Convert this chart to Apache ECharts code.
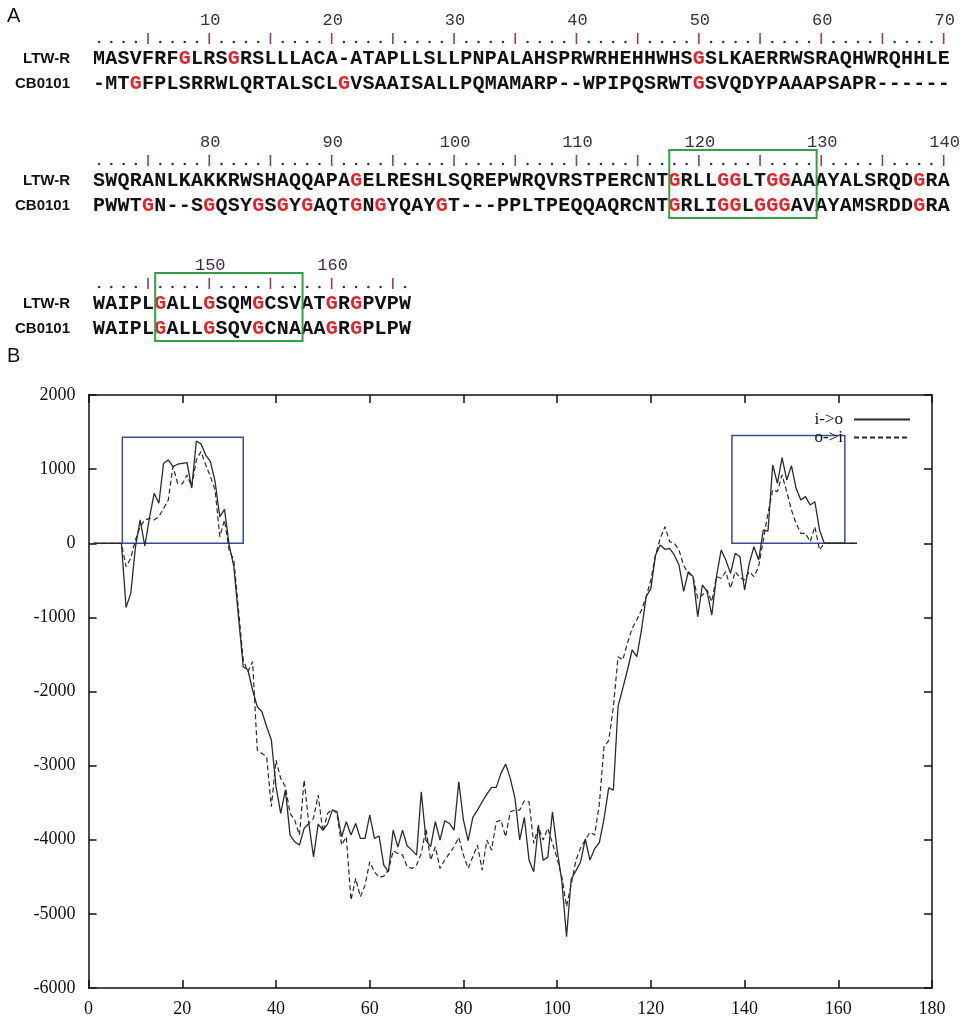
<!DOCTYPE html>
<html><head><meta charset="utf-8">
<script src="https://cdn.jsdelivr.net/npm/echarts@6/dist/echarts.min.js"></script>
<style>html,body{margin:0;padding:0;background:#fff}#c{width:960px;height:1020px}</style>
</head><body><div id="c"></div>
<script>
// ---------- Panel A data ----------
const seqNames = ['LTW-R', 'CB0101'];
const ltwRows = [
  'MASVFRFGLRSGRSLLLACA-ATAPLLSLLPNPALAHSPRWRHEHHWHSGSLKAERRWSRAQHWRQHHLE',
  'SWQRANLKAKKRWSHAQQAPAGELRESHLSQREPWRQVRSTPERCNTGRLLGGLTGGAAAYALSRQDGRA',
  'WAIPLGALLGSQMGCSVATGRGPVPW'
];
const cbRows = [
  '-MTGFPLSRRWLQRTALSCLGVSAAISALLPQMAMARP--WPIPQSRWTGSVQDYPAAAPSAPR------',
  'PWWTGN--SGQSYGSGYGAQTGNGYQAYGT---PPLTPEQQAQRCNTGRLIGGLGGGAVAYAMSRDDGRA',
  'WAIPLGALLGSQVGCNAAAGRGPLPW'
];
const rowStarts = [1, 71, 141];
// motif boxes: [row, first column, last column]
const motifBoxes = [[1, 48, 59], [2, 6, 17]];

// ---------- Panel B data ----------
const iToO = [
  0, 0, 0, 0, 0, 0, 0, -865, -676, -50,
  314, -37, 350, 674, 539, 1079, 1124, 1034, 1066, 1079,
  1088, 745, 1380, 1340, 1190, 1100, 830, 357, 456, -24,
  -316, -1000, -1665, -1710, -1980, -2205, -2273, -2475, -2655, -3284,
  -3645, -3330, -3937, -4027, -4072, -3847, -3780, -4230, -3789, -3870,
  -3789, -3600, -3622, -3960, -3757, -3937, -3780, -3982, -3982, -3667,
  -3982, -3950, -4342, -4432, -3870, -4100, -3870, -4085, -4140, -4207,
  -3352, -4004, -4094, -3757, -4004, -3744, -3780, -3870, -3217, -3735,
  -4013, -3699, -3600, -3487, -3384, -3294, -3294, -3105, -2979, -3172,
  -3442, -4004, -3699, -4274, -4432, -3802, -4274, -4238, -3622, -4140,
  -4560, -5309, -4530, -4420, -4300, -3990, -4274, -4120, -4040, -3720,
  -3300, -3330, -2200, -1958, -1710, -1440, -1530, -1170, -721, -608,
  -158, -23, -82, -68, -158, -293, -650, -383, -450, -990,
  -563, -653, -968, -450, -91, -226, -406, -136, -181, -631,
  -271, -46, -226, 179, 165, 1056, 809, 1155, 854, 1047,
  741, 584, 629, 516, 561, 179, 0, 0, 0, 0,
  0, 0, 0, 0
];
const oToI = [
  0, 0, 0, 0, 0, 0, 0, -316, -203, 44,
  224, 314, 336, 314, 359, 471, 584, 1034, 809, 800,
  921, 764, 1124, 1237, 1056, 899, 719, 89, 314, -91,
  -226, -900, -1575, -1733, -1598, -2790, -2835, -2880, -3555, -2925,
  -3172, -3285, -3645, -3735, -3937, -3195, -3780, -3712, -3397, -3892,
  -3645, -3590, -3645, -4072, -3960, -4814, -4522, -4769, -4612, -4297,
  -4432, -4510, -4490, -4410, -4150, -4185, -4207, -4364, -4387, -4342,
  -4185, -3847, -4274, -4094, -4387, -4274, -4185, -4094, -3968, -4207,
  -4387, -4229, -4072, -4409, -4004, -4140, -3757, -3735, -3960, -3622,
  -3600, -3600, -3474, -3487, -4049, -3825, -4004, -3847, -4049, -4252,
  -4500, -4900, -4600, -4280, -4110, -4004, -3900, -3937, -3520, -2745,
  -2664, -2205, -1530, -1575, -1350, -1148, -1035, -900, -721, -495,
  -158, 66, 224, 21, 0, -91, -300, -406, -450, -743,
  -698, -631, -788, -450, -473, -383, -608, -383, -464, -495,
  -383, -450, -316, 44, 404, 719, 696, 921, 696, 449,
  269, 134, 134, 21, 224, -91, 0, 0, 0, 0,
  0, 0, 0, 0
];
const seriesNames = ['i->o', 'o->i'];
const xTicks = [0, 20, 40, 60, 80, 100, 120, 140, 160, 180];
const yTicks = [-6000, -5000, -4000, -3000, -2000, -1000, 0, 1000, 2000];
// predicted TM regions: [xStart, xEnd, yBottom, yTop]
const tmBoxes = [[7.2, 33.0, 0, 1430], [137.3, 161.4, 0, 1453]];

// ---------- build ----------
const X0 = 99.1, DX = 12.24;
const rowTop = [0, 122, 245];
const colX = c => X0 + (c - 1) * DX;
const graphics = [];
const seqFont = 'bold 20px "Liberation Mono", "Courier New", monospace';
const labelFont = 'bold 15px "Liberation Sans", Arial, sans-serif';

graphics.push({type: 'text', x: 7, y: 16, style: {text: 'A', font: '20px "Liberation Sans", Arial, sans-serif', fill: '#111', textVerticalAlign: 'middle'}});
graphics.push({type: 'text', x: 7, y: 356, style: {text: 'B', font: '20px "Liberation Sans", Arial, sans-serif', fill: '#111', textVerticalAlign: 'middle'}});

for (let r = 0; r < 3; r++) {
  const t = rowTop[r];
  const len = ltwRows[r].length;
  for (let c = 1; c <= len; c++) {
    const pos = rowStarts[r] + c - 1;
    const x = colX(c);
    if (pos % 5 === 0) {
      graphics.push({type: 'line', shape: {x1: x, y1: t + 33, x2: x, y2: t + 44}, style: {stroke: '#8c3f6e', lineWidth: 1.6}});
    } else {
      graphics.push({type: 'circle', shape: {cx: x, cy: t + 42, r: 1.25}, style: {fill: '#333'}});
    }
    if (pos % 10 === 0) {
      graphics.push({type: 'text', x: x + 1, y: t + 20, style: {text: String(pos), font: '17px "Liberation Mono", "Courier New", monospace', fill: '#3c2c48', textAlign: 'center', textVerticalAlign: 'middle'}});
    }
  }
  graphics.push({type: 'text', x: 70, y: t + 58.5, style: {text: seqNames[0], font: labelFont, fill: '#111', textAlign: 'right', textVerticalAlign: 'middle'}});
  graphics.push({type: 'text', x: 70, y: t + 84, style: {text: seqNames[1], font: labelFont, fill: '#111', textAlign: 'right', textVerticalAlign: 'middle'}});
  [[ltwRows[r], t + 58.5], [cbRows[r], t + 84]].forEach(([s, y]) => {
    for (let c = 1; c <= s.length; c++) {
      const ch = s[c - 1];
      graphics.push({type: 'text', x: colX(c), y: y, style: {text: ch, font: seqFont, fill: ch === 'G' ? '#e3232c' : '#111', textAlign: 'center', textVerticalAlign: 'middle'}});
    }
  });
}
motifBoxes.forEach(([r, c1, c2]) => {
  const t = rowTop[r];
  const x1 = X0 + (c1 - 1.5) * DX + 1, x2 = X0 + (c2 - 0.5) * DX + 1.5;
  graphics.push({type: 'rect', shape: {x: x1, y: t + 28, width: x2 - x1, height: 68}, style: {fill: 'none', stroke: '#33a043', lineWidth: 2}});
});

const toPairs = arr => arr.map((v, i) => [i + 1, v]);
const serif = '"Liberation Serif", "Times New Roman", serif';
const axisLine = {show: true, onZero: false, lineStyle: {color: '#111', width: 1.5}};
const tick = {show: true, inside: true, length: 8, lineStyle: {color: '#111', width: 1.5}};
const plain = v => String(v);

const chart = echarts.init(document.getElementById('c'), null, {renderer: 'canvas'});
chart.setOption({
  animation: false,
  backgroundColor: '#fff',
  graphic: graphics,
  grid: {left: 88.6, right: 28, top: 395, bottom: 32, containLabel: false},
  legend: {
    data: [{name: seriesNames[0]}, {name: seriesNames[1]}],
    orient: 'vertical', right: 44, top: 406, align: 'right',
    itemWidth: 56, itemHeight: 10, itemGap: 1, selectedMode: false,
    itemStyle: {opacity: 0},
    textStyle: {fontFamily: serif, fontSize: 17, color: '#111', padding: [0, 6, 0, 0]}
  },
  xAxis: [
    {type: 'value', min: xTicks[0], max: xTicks[xTicks.length - 1], interval: xTicks[1] - xTicks[0], position: 'bottom',
     axisLine: axisLine, axisTick: tick, splitLine: {show: false},
     axisLabel: {fontFamily: serif, fontSize: 18, color: '#111', margin: 12, formatter: plain}},
    {type: 'value', min: xTicks[0], max: xTicks[xTicks.length - 1], interval: xTicks[1] - xTicks[0], position: 'top',
     axisLine: axisLine, axisTick: tick, splitLine: {show: false}, axisLabel: {show: false}}
  ],
  yAxis: [
    {type: 'value', min: yTicks[0], max: yTicks[yTicks.length - 1], interval: yTicks[1] - yTicks[0], position: 'left',
     axisLine: axisLine, axisTick: tick, splitLine: {show: false},
     axisLabel: {fontFamily: serif, fontSize: 18, color: '#111', margin: 13, formatter: plain}},
    {type: 'value', min: yTicks[0], max: yTicks[yTicks.length - 1], interval: yTicks[1] - yTicks[0], position: 'right',
     axisLine: axisLine, axisTick: tick, splitLine: {show: false}, axisLabel: {show: false}}
  ],
  series: [
    {name: seriesNames[0], type: 'line', data: toPairs(iToO), showSymbol: false, symbol: 'none',
     lineStyle: {color: '#2a2a2a', width: 1.3, type: 'solid'}, itemStyle: {color: '#2a2a2a'}},
    {name: seriesNames[1], type: 'line', data: toPairs(oToI), showSymbol: false, symbol: 'none',
     lineStyle: {color: '#2a2a2a', width: 1.2, type: [5, 3]}, itemStyle: {color: '#2a2a2a'}},
    {name: 'tm', type: 'line', data: [], z: 5,
     markArea: {silent: true, itemStyle: {color: 'rgba(0,0,0,0)', borderColor: '#3a4a9c', borderWidth: 1.5},
       data: tmBoxes.map(b => [{coord: [b[0], b[3]]}, {coord: [b[1], b[2]]}])}}
  ]
});
</script></body></html>
